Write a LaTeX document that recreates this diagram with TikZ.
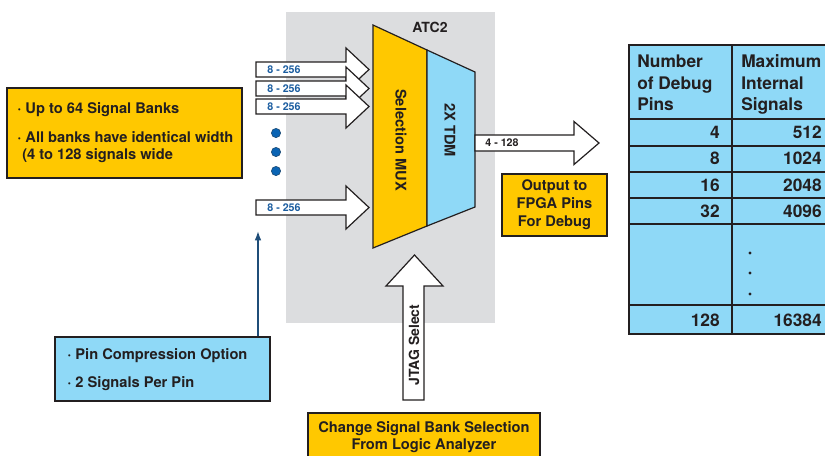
\documentclass[tikz,border=0pt]{standalone}
\usepackage{fontspec}
\setmainfont{TeX Gyre Heros}
\usetikzlibrary{arrows.meta}
\definecolor{ink}{HTML}{231F20}
\definecolor{gold}{HTML}{FFC800}
\definecolor{sky}{HTML}{8FD9F7}
\definecolor{panel}{HTML}{DCDDDF}
\definecolor{busblue}{HTML}{1B5DA0}
\definecolor{dotblue}{HTML}{0A64B4}
\definecolor{leadblue}{HTML}{1F4E79}

% wide hollow arrow: #1 = y of axis, #2 = x of tail, #3 = x of head base, #4 = x of tip, #5 = half body, #6 = half head
\newcommand\hollowarrowR[6]{%
  \draw[blockarrow] (#2,#1-#5) -- (#3,#1-#5) -- (#3,#1-#6) -- (#4,#1)
    -- (#3,#1+#6) -- (#3,#1+#5) -- (#2,#1+#5) -- cycle;}

\begin{document}
\begin{tikzpicture}[x=0.75pt,y=-0.75pt,line join=miter,
  outline/.style={draw=ink,line width=0.9pt},
  blockarrow/.style={outline,fill=white},
  boldtext/.style={font=\bfseries\fontsize{11}{13.5}\selectfont,text=ink,inner sep=0pt},
  buslabel/.style={font=\bfseries\fontsize{8}{9}\selectfont,text=busblue,inner sep=0pt},
  outlabel/.style={font=\bfseries\fontsize{8}{9}\selectfont,text=ink,inner sep=0pt},
  tabletext/.style={font=\bfseries\fontsize{13}{16}\selectfont,text=ink,inner sep=0pt},
  infobox/.style={outline,inner sep=0pt},
  bankdot/.style={draw=leadblue,fill=dotblue,line width=0.5pt}]

\clip (0,0) rectangle (825,455);
\fill[white] (0,0) rectangle (825,455);

% ATC2 core panel
\fill[panel] (286,12) rectangle (495,323);
\node[boldtext,font=\bfseries\fontsize{10.5}{12}\selectfont] (atc) at (430,27) {ATC2};

% signal bank inputs
\hollowarrowR{69.5}{256}{346}{369}{7.5}{21.5}
\node[buslabel] (bus1) at (284,69.5) {8 - 256};
\hollowarrowR{88.5}{256}{346}{369}{7.5}{21.5}
\node[buslabel] (bus2) at (284,88.5) {8 - 256};
\hollowarrowR{106.5}{256}{346}{369}{7.5}{21.5}
\node[buslabel] (bus3) at (284,106.5) {8 - 256};
\hollowarrowR{207.5}{256}{346}{369}{7.5}{21.5}
\node[buslabel] (bus4) at (284,207.5) {8 - 256};

\draw[bankdot] (276,133) circle[radius=4.6] (276,152) circle[radius=4.6] (276,171) circle[radius=4.6];

% selection mux and TDM stage
\draw[outline,fill=gold] (373,25) -- (427,50) -- (427,226) -- (373,248) -- cycle;
\draw[outline,fill=sky] (427,50) -- (475,72) -- (475,207) -- (427,226) -- cycle;
\node[boldtext,rotate=-90] (mux) at (401,140) {Selection MUX};
\node[boldtext,rotate=-90] (tdm) at (450,130) {2X TDM};

% debug output
\hollowarrowR{143}{475}{574}{599}{8}{21.5}
\node[outlabel] (outbus) at (502,143) {4 - 128};
\node[infobox,fill=gold,minimum width=78.75pt,minimum height=46.5pt] (outbox) at (554.5,205) {};
\node[boldtext,align=center] (outtext) at (outbox.center) {Output to\\FPGA Pins\\For Debug};

% bank description
\node[infobox,fill=gold,minimum width=176.25pt,minimum height=67.5pt] (bankbox) at (124.5,133) {};
\node[boldtext,anchor=base west] (bank1) at (17,113) {· Up to 64 Signal Banks};
\node[boldtext,anchor=base west] (bank2) at (17,142) {· All banks have identical width};
\node[boldtext,anchor=base west] (bank3) at (22,159) {(4 to 128 signals wide};

% pin compression note
\node[infobox,fill=sky,minimum width=161.25pt,minimum height=48pt] (pinbox) at (162.5,369) {};
\node[boldtext,anchor=base west] (pin1) at (67,359) {· Pin Compression Option};
\node[boldtext,anchor=base west] (pin2) at (67,387) {· 2 Signals Per Pin};
\coordinate (pintip) at (258,231);
\draw[leadblue,line width=1.1pt,-{Latex[length=7pt,width=5pt]}] (pinbox.north -| pintip) -- (pintip);

% JTAG select
\draw[blockarrow] (403,400) -- (403,286) -- (386,286) -- (414.5,255) -- (443,286)
  -- (424,286) -- (424,400) -- cycle;
\node[boldtext,rotate=90,font=\bfseries\fontsize{10.5}{12}\selectfont] (jtag) at (414,345) {JTAG Select};

\node[infobox,fill=gold,minimum width=174pt,minimum height=45pt] (selbox) at (424,443) {};
\node[boldtext,anchor=base] (sel1) at (424,432) {Change Signal Bank Selection};
\node[boldtext,anchor=base] (sel2) at (424,449) {From Logic Analyzer};

% pins versus signals table
\draw[outline,fill=sky] (629,45) rectangle (832,334);
\foreach \yy in {119,146,172,198,224,305}
  \draw[outline] (629,\yy) -- (832,\yy);
\draw[outline] (732,45) -- (732,334);
\node[tabletext,anchor=base west] (h1a) at (637,67) {Number};
\node[tabletext,anchor=base west] (h1b) at (637,89) {of Debug};
\node[tabletext,anchor=base west] (h1c) at (637,110) {Pins};
\node[tabletext,anchor=base west] (h2a) at (741,67) {Maximum};
\node[tabletext,anchor=base west] (h2b) at (741,89) {Internal};
\node[tabletext,anchor=base west] (h2c) at (741,110) {Signals};
\foreach \pins/\sig/\yy in {4/512/138,8/1024/164,16/2048/191,32/4096/217,128/16384/326}{
  \node[tabletext,anchor=base east] at (720,\yy) {\pins};
  \node[tabletext,anchor=base east] at (822,\yy) {\sig};
}
\foreach \yy in {253,273,294}
  \fill[ink] (750,\yy) circle[radius=1.6];
\end{tikzpicture}
\end{document}
